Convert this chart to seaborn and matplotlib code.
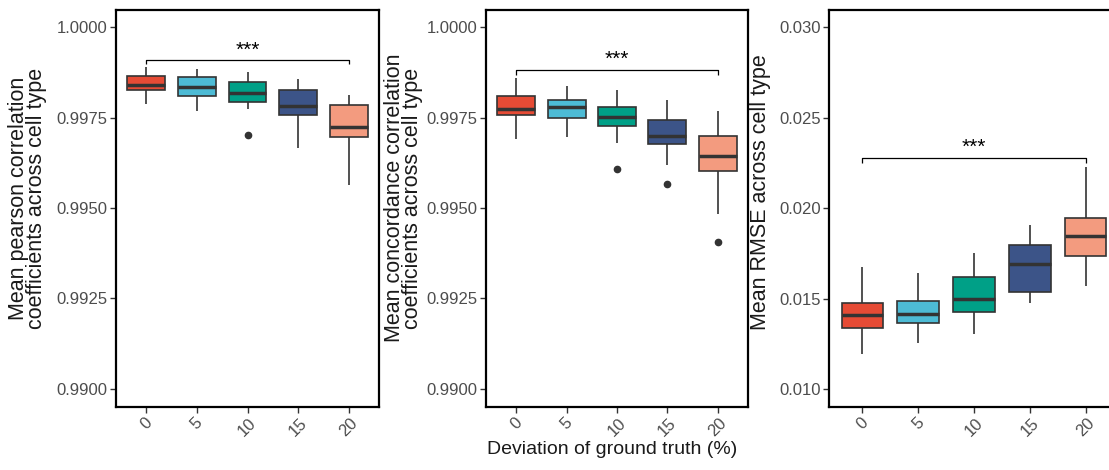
import matplotlib
matplotlib.use("Agg")
import matplotlib.pyplot as plt
import pandas as pd
import seaborn as sns

# deviation of ground truth (%) and box colours
deviations = ["0", "5", "10", "15", "20"]
npg_colors = ["#E64B35", "#4DBBD5", "#00A087", "#3C5488", "#F39B7F"]

# values per deviation group (whiskers, quartiles, median, outliers)
pearson_values = [
    [0.99787, 0.99810, 0.99825, 0.99832, 0.99839, 0.99852, 0.99866, 0.99878, 0.99891],
    [0.99767, 0.99790, 0.99809, 0.99822, 0.99835, 0.99848, 0.99861, 0.99872, 0.99884],
    [0.99702, 0.99773, 0.99794, 0.99805, 0.99817, 0.99833, 0.99849, 0.99862, 0.99876],
    [0.99665, 0.99720, 0.99758, 0.99770, 0.99782, 0.99803, 0.99825, 0.99840, 0.99856],
    [0.99565, 0.99640, 0.99697, 0.99710, 0.99724, 0.99755, 0.99786, 0.99800, 0.99812],
]
concordance_values = [
    [0.99691, 0.99725, 0.99756, 0.99765, 0.99774, 0.99792, 0.99810, 0.99835, 0.99859],
    [0.99697, 0.99722, 0.99749, 0.99763, 0.99778, 0.99788, 0.99799, 0.99818, 0.99838],
    [0.99608, 0.99681, 0.99727, 0.99739, 0.99751, 0.99765, 0.99779, 0.99802, 0.99826],
    [0.99566, 0.99618, 0.99678, 0.99688, 0.99698, 0.99721, 0.99744, 0.99770, 0.99799],
    [0.99406, 0.99484, 0.99603, 0.99623, 0.99644, 0.99672, 0.99700, 0.99734, 0.99768],
]
rmse_values = [
    [0.01196, 0.01270, 0.01340, 0.01374, 0.01408, 0.01441, 0.01474, 0.01570, 0.01673],
    [0.01255, 0.01310, 0.01364, 0.01388, 0.01413, 0.01451, 0.01489, 0.01567, 0.01645],
    [0.01307, 0.01365, 0.01426, 0.01463, 0.01500, 0.01561, 0.01622, 0.01687, 0.01752],
    [0.01474, 0.01505, 0.01537, 0.01615, 0.01692, 0.01744, 0.01796, 0.01850, 0.01907],
    [0.01568, 0.01650, 0.01739, 0.01793, 0.01848, 0.01896, 0.01944, 0.02080, 0.02226],
]

pearson_ticks = [0.9900, 0.9925, 0.9950, 0.9975, 1.0000]
rmse_ticks = [0.010, 0.015, 0.020, 0.025, 0.030]

# significance bracket heights (data units) and tip lengths
pearson_bracket = (0.99908, 0.00009)
concordance_bracket = (0.99882, 0.00014)
rmse_bracket = (0.02279, 0.00028)

sns.set_style("white")
plt.rcParams["font.family"] = ["Liberation Sans", "DejaVu Sans"]


def to_frame(values):
    rows = []
    for dev, vals in zip(deviations, values):
        for v in vals:
            rows.append({"deviation": dev, "value": v})
    return pd.DataFrame(rows)


def draw_panel(ax, values, ticks, tick_fmt, ylim, ylabel, label_xy, bracket):
    df = to_frame(values)
    sns.boxplot(
        data=df, x="deviation", y="value", hue="deviation",
        order=deviations, hue_order=deviations, palette=npg_colors,
        saturation=1, legend=False, width=0.75, linewidth=1.2, linecolor="#333333",
        showcaps=False, fliersize=4.5,
        flierprops=dict(marker="o", markerfacecolor="#333333", markeredgecolor="#333333"),
        medianprops=dict(linewidth=2.5, color="#333333"),
        ax=ax,
    )
    ax.set_xlim(-0.6, 4.6)
    ax.set_ylim(*ylim)
    ax.set_yticks(ticks)
    ax.set_yticklabels([tick_fmt.format(t) for t in ticks])
    ax.set_xlabel("")
    ax.set_ylabel(ylabel, fontsize=15.5, color="#1a1a1a", linespacing=0.8)
    ax.yaxis.set_label_coords(*label_xy)
    ax.tick_params(axis="y", labelsize=12, labelcolor="#4D4D4D", color="#333333",
                   length=4, width=1, left=True, pad=2)
    ax.tick_params(axis="x", labelsize=12, labelcolor="#4D4D4D", color="#333333",
                   length=4, width=1, bottom=True, pad=2)
    plt.setp(ax.get_xticklabels(), rotation=45, ha="center", va="top")
    for sp in ax.spines.values():
        sp.set_color("black")
        sp.set_linewidth(1.6)

    # significance bracket between 0 and 20
    y, tip = bracket
    ax.plot([0, 0, 4, 4], [y - tip, y, y, y - tip], color="black", linewidth=0.9,
            solid_capstyle="butt")
    ax.annotate("***", xy=(2, y), xytext=(0, 3.5), textcoords="offset points",
                ha="center", va="baseline", fontsize=15, color="black")


fig = plt.figure(figsize=(11.09, 4.70), dpi=100)
W, H = 1109.0, 470.0
ax1 = fig.add_axes([116 / W, (H - 407) / H, 263 / W, 397 / H])
ax2 = fig.add_axes([486 / W, (H - 407) / H, 262 / W, 397 / H])
ax3 = fig.add_axes([829 / W, (H - 407) / H, 290 / W, 397 / H])

draw_panel(ax1, pearson_values, pearson_ticks, "{:.4f}", (0.98950, 1.000475),
           "Mean pearson correlation\ncoefficients across cell type", (-0.263, 0.526),
           pearson_bracket)
draw_panel(ax2, concordance_values, pearson_ticks, "{:.4f}", (0.98950, 1.000475),
           "Mean concordance correlation\ncoefficients across cell type", (-0.240, 0.526),
           concordance_bracket)
draw_panel(ax3, rmse_values, rmse_ticks, "{:.3f}", (0.009015, 0.030967),
           "Mean RMSE across cell type", (-0.201, 0.540), rmse_bracket)

fig.text(612 / W, 1 - 449 / H, "Deviation of ground truth (%)", ha="center", va="center",
         fontsize=14, color="#1a1a1a")

fig.savefig("out.png", dpi=100)
plt.close(fig)
